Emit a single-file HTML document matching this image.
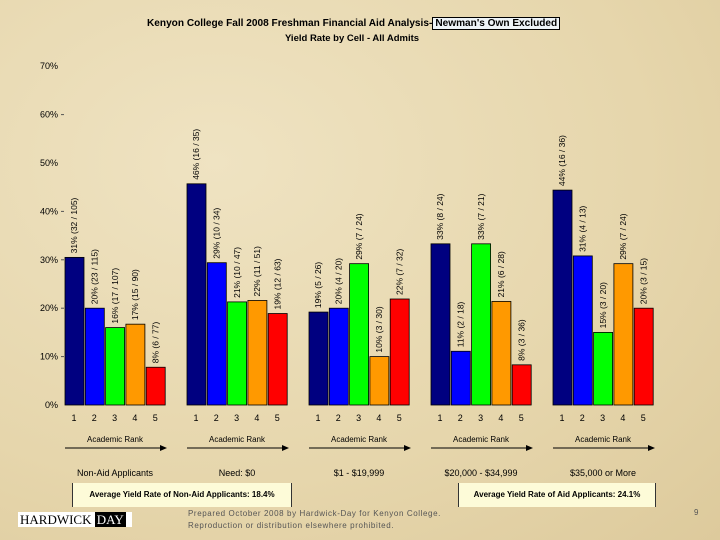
<!DOCTYPE html>
<html><head><meta charset="utf-8"><style>
body{margin:0;}
#root{position:relative;width:720px;height:540px;overflow:hidden;font-family:"Liberation Sans",sans-serif;
background:radial-gradient(ellipse at 30% 30%,#efe3c2 0%,#e6d6ac 60%,#ddca9c 100%);}
.t{position:absolute;white-space:nowrap;}
</style></head><body>
<div id="root">
<div class="t" style="left:147px;top:18px;font-size:10.1px;font-weight:bold;color:#000;">Kenyon College Fall 2008 Freshman Financial Aid Analysis-<span style="background:#eef4f8;border:1px solid #000;padding:0 2px;">Newman's Own Excluded</span></div>
<div class="t" style="left:0;width:704px;text-align:center;top:33px;font-size:9.5px;font-weight:bold;">Yield Rate by Cell - All Admits</div>
<svg id="chart" width="720" height="540" style="position:absolute;left:0;top:0"></svg>
<div class="t" style="left:72px;top:483px;width:218px;height:24px;background:#fdfbd8;border-left:1px solid #333;border-right:1px solid #333;font-size:8px;font-weight:bold;text-align:center;line-height:24px;">Average Yield Rate of Non-Aid Applicants: 18.4%</div>
<div class="t" style="left:458px;top:483px;width:196px;height:24px;background:#fdfbd8;border-left:1px solid #333;border-right:1px solid #333;font-size:8px;font-weight:bold;text-align:center;line-height:24px;">Average Yield Rate of Aid Applicants: 24.1%</div>
<div class="t" style="left:18px;top:512px;width:112px;height:15px;background:#fff;font-family:'Liberation Serif',serif;font-size:13px;line-height:15px;padding-left:2px;">HARDWICK <span style="background:#000;color:#fff;padding:0 2px;">DAY</span></div>
<div class="t" style="left:188px;top:508px;font-size:8px;line-height:12px;color:#555;letter-spacing:0.6px;">Prepared October 2008 by Hardwick-Day for Kenyon College.<br>Reproduction or distribution elsewhere prohibited.</div>
<div class="t" style="left:694px;top:508px;font-size:8px;color:#555;">9</div>
</div>
<script>
const groups=["Non-Aid Applicants","Need: $0","$1 - $19,999","$20,000 - $34,999","$35,000 or More"];
const ranks=["1","2","3","4","5"];
const values=[[30.5,20,16,16.7,7.8],[45.7,29.4,21.3,21.6,18.9],[19.2,20,29.2,10,21.9],[33.3,11.1,33.3,21.4,8.3],[44.4,30.8,15,29.2,20]];
const labels=[["31%  (32 / 105)","20%  (23 / 115)","16%  (17 / 107)","17%  (15 / 90)","8%  (6 / 77)"],
["46%  (16 / 35)","29%  (10 / 34)","21%  (10 / 47)","22%  (11 / 51)","19%  (12 / 63)"],
["19%  (5 / 26)","20%  (4 / 20)","29%  (7 / 24)","10%  (3 / 30)","22%  (7 / 32)"],
["33%  (8 / 24)","11%  (2 / 18)","33%  (7 / 21)","21%  (6 / 28)","8%  (3 / 36)"],
["44%  (16 / 36)","31%  (4 / 13)","15%  (3 / 20)","29%  (7 / 24)","20%  (3 / 15)"]];
const yTicks=[0,10,20,30,40,50,60,70];
const colors=["#000080","#0000ff","#00ff00","#ff9900","#ff0000"];
const NS="http://www.w3.org/2000/svg";
const svg=document.getElementById('chart');
const y=v=>405-v*48.4/10;
const x=(g,i)=>65+g*122+i*20.3;
function mk(tag,attrs,txt){const e=document.createElementNS(NS,tag);for(const k in attrs)e.setAttribute(k,attrs[k]);if(txt!==undefined)e.textContent=txt;svg.appendChild(e);return e;}
yTicks.forEach(t=>{
  const e=mk('text',{x:58,y:y(t)+3,'text-anchor':'end','font-size':9,fill:'#000'},t+'%');
  
  
  if(t===60||t===40||t===30||t===20||t===10){const l=mk('line',{x1:61,x2:64,y1:y(t),y2:y(t),stroke:'#555'});
  
  }
});
groups.forEach((g,gi)=>{
  values[gi].forEach((v,i)=>{
    const bx=x(gi,i);
    const r=mk('rect',{x:bx,y:y(v),width:19,height:405-y(v),fill:colors[i],stroke:'#000','stroke-width':0.8});
    
    
    const cx=bx+10, cy=y(v)-4;
    const t=mk('text',{x:cx,y:cy,transform:`rotate(-90 ${cx} ${cy})`,'font-size':8.5,fill:'#000','dominant-baseline':'middle','xml:space':'preserve'},labels[gi][i]);
    
    
    const n=mk('text',{x:bx+9,y:421,'text-anchor':'middle','font-size':9},ranks[i]);
    
    
  });
  const c=x(gi,0)+50;
  const a=mk('text',{x:c,y:442,'text-anchor':'middle','font-size':8},'Academic Rank');
  
  
  const ln=mk('line',{x1:c-50,x2:c+46,y1:448,y2:448,stroke:'#000','stroke-width':1});
  
  
  const p=mk('polygon',{points:`${c+52},448 ${c+45},445 ${c+45},451`,fill:'#000'});
  
  
  const gl=mk('text',{x:c,y:476,'text-anchor':'middle','font-size':9},g);
  
  
});
</script>
</body></html>
